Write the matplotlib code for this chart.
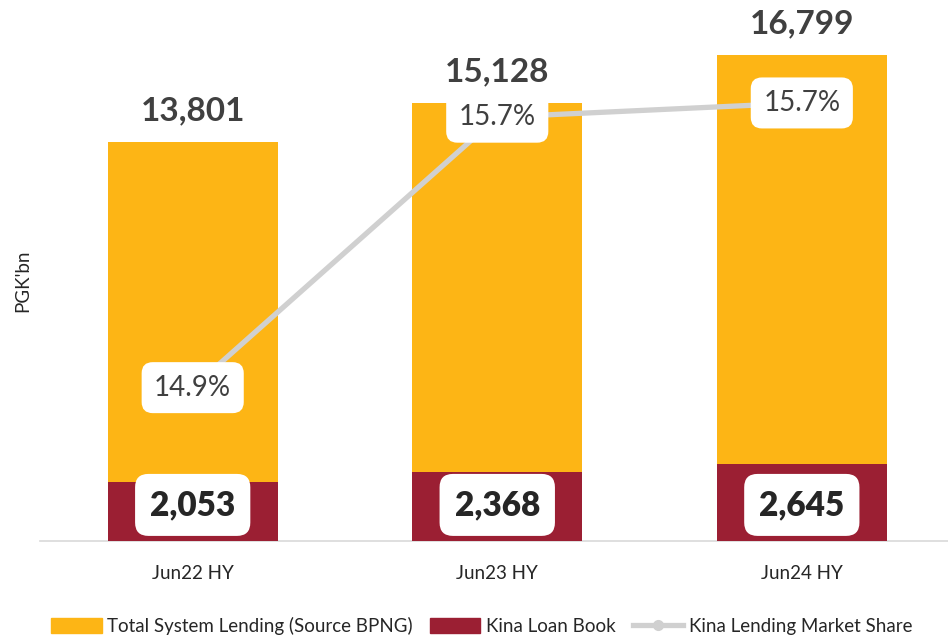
import matplotlib.pyplot as plt
from matplotlib.lines import Line2D
from matplotlib.patches import Patch

plt.rcParams['font.family'] = ['Lato', 'DejaVu Sans']

# data
periods = ['Jun22 HY', 'Jun23 HY', 'Jun24 HY']
system_lending = [13801, 15128, 16799]
kina_loans = [2053, 2368, 2645]
market_share = [14.90, 15.66, 15.70]

orange = '#FDB515'
maroon = '#9B1F33'
grey_line = '#D0D0D0'
txt = '#404040'

fig = plt.figure(figsize=(9.48, 6.38), dpi=100)
ax = fig.add_axes([0.042, 0.152, 0.958, 0.8166])
x = range(len(periods))
w = 0.558

ax.bar(x, system_lending, width=w, color=orange, zorder=2)
ax.bar(x, kina_loans, width=w, color=maroon, zorder=3)

ax.set_ylim(0, 18000)
ax.set_xlim(-0.502, 2.48)
ax.set_yticks([])
ax.set_xticks(list(x))
ax.set_xticklabels(periods, fontsize=13.5, color='#262626')
ax.tick_params(axis='x', length=0, pad=17)
for s in ['top', 'right', 'left']:
    ax.spines[s].set_visible(False)
ax.spines['bottom'].set_color('#D9D9D9')
ax.spines['bottom'].set_linewidth(1.2)
ax.set_ylabel("PGK'bn", fontsize=13.5, color='#262626', labelpad=6)

# totals above bars
for i, v in enumerate(system_lending):
    ax.annotate(f'{v:,}', (i, v), xytext=(0, 12), textcoords='offset points',
                ha='center', va='bottom', fontsize=24, fontweight='bold', color=txt)

# kina loan labels in white boxes
for i, v in enumerate(kina_loans):
    ax.annotate(f'{v:,}', (i, 0), xytext=(0, 26), textcoords='offset points',
                ha='center', va='center', fontsize=24, fontweight='heavy', color='#262626',
                bbox=dict(boxstyle='round,pad=0.45,rounding_size=0.4', fc='white', ec='none'),
                zorder=5)

# market share line on hidden secondary axis
ax2 = ax.twinx()
ax2.plot(x, market_share, color=grey_line, lw=3.8, marker='o', ms=7, zorder=4)
ax2.set_ylim(14.469, 15.933)
ax2.axis('off')
for i, v in enumerate(market_share):
    ax2.annotate(f'{v:.1f}%', (i, v), ha='center', va='center', fontsize=20, color=txt,
                 bbox=dict(boxstyle='round,pad=0.45,rounding_size=0.4', fc='white', ec='none'),
                 zorder=6)

handles = [Patch(color=orange), Patch(color=maroon),
           Line2D([0], [0], color=grey_line, lw=3.8, marker='o', ms=7)]
labels = ['Total System Lending (Source BPNG)', 'Kina Loan Book', 'Kina Lending Market Share']
fig.legend(handles, labels, loc='lower center', bbox_to_anchor=(0.508, -0.022), ncol=3,
           frameon=False, fontsize=13.5, handlelength=2.7, handleheight=0.8,
           columnspacing=0.9, handletextpad=0.3, labelcolor='#262626')

fig.savefig('out.png', dpi=100)
